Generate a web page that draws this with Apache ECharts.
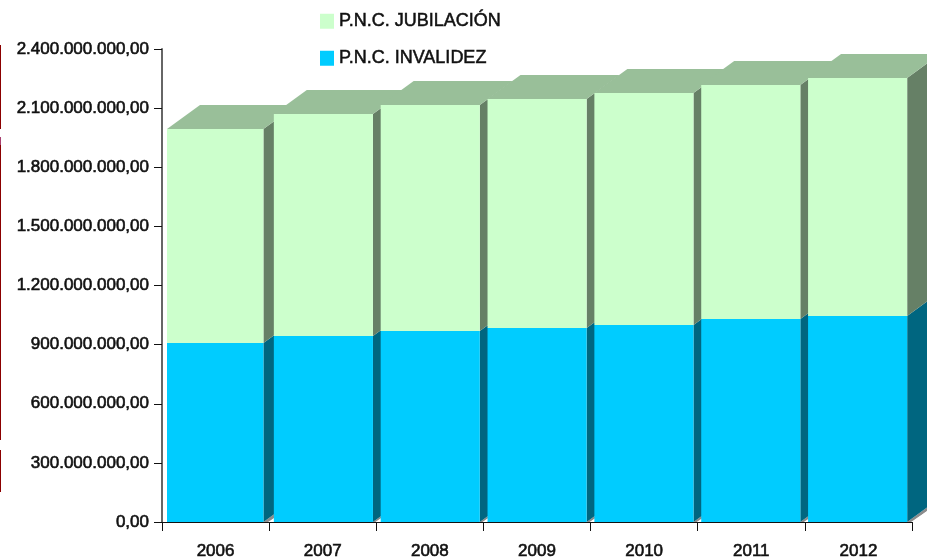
<!DOCTYPE html>
<html><head><meta charset="utf-8">
<style>html,body{margin:0;padding:0;background:#fff}#c{width:927px;height:559px}</style>
<script src="https://cdn.jsdelivr.net/npm/echarts@6/dist/echarts.min.js"></script></head>
<body><div id="c"></div>
<script>
const categories = ['2006','2007','2008','2009','2010','2011','2012'];
const invalidez = [908000000,944000000,969000000,984000000,1000000000,1030000000,1045000000];
const jubilacion = [1086000000,1126000000,1147000000,1162000000,1177000000,1187000000,1208000000];
const yTickLabels = ['0,00','300.000.000,00','600.000.000,00','900.000.000,00','1.200.000.000,00','1.500.000.000,00','1.800.000.000,00','2.100.000.000,00','2.400.000.000,00'];
const nameJub = 'P.N.C. JUBILACIÓN', nameInv = 'P.N.C. INVALIDEZ';
const FONT = '"Liberation Sans",Arial,sans-serif';
const DX = 33, DY = 24;
const INK = '#111';
const labelStyle = {fontFamily:FONT,fontSize:17,color:INK,textBorderColor:INK,textBorderWidth:0.6};

function makeRender(front, side, top, drawTop, drawFloor) {
  return function (params, api) {
    const i = api.value(0);
    const base = api.value(1), val = api.value(2);
    const band = api.size([1, 0])[0];
    const c0 = api.coord([i, base]), c1 = api.coord([i, base + val]);
    const bl = c0[0] - band / 2, br = c0[0] + band / 2;
    const w = i === 0 ? band * 0.9 : band * 0.925;
    const l = bl + 5 - 0.3 * i, r = l + w;
    const y0 = c0[1], y1 = c1[1];
    const kids = [];
    if (drawFloor) {
      kids.push({type:'polygon',shape:{points:[[r,y0],[br,y0],[br+DX,y0-DY],[r+DX,y0-DY]]},
        style:{fill:'#8c8c8c',stroke:'none'}});
      kids.push({type:'polygon',shape:{points:[[br-1,y0],[br+DX,y0],[br+DX,y0-DY+1]]},
        style:{fill:'#fff',stroke:'none'}});
    }
    kids.push({type:'polygon',shape:{points:[[r,y0],[r+DX,y0-DY],[r+DX,y1-DY],[r,y1]]},style:{fill:side}});
    if (drawTop) kids.push({type:'polygon',shape:{points:[[l,y1],[r,y1],[r+DX,y1-DY],[l+DX,y1-DY]]},style:{fill:top}});
    kids.push({type:'rect',shape:{x:l,y:y1,width:w,height:y0-y1},style:{fill:front}});
    return {type:'group',children:kids};
  };
}

const chart = echarts.init(document.getElementById('c'), null, {renderer:'canvas'});
chart.setOption({
  animation:false,
  backgroundColor:'#fff',
  grid:{left:162,right:15,top:49,bottom:37,outerBoundsMode:'none'},
  legend:[
    {left:320, top:12, padding:0, itemWidth:14, itemHeight:15, icon:'rect', data:[nameJub], selectedMode:false,
     textStyle:{fontFamily:FONT,fontSize:18,color:INK,textBorderColor:INK,textBorderWidth:0.5,padding:[0,0,8,0]}},
    {left:320, top:49, padding:0, itemWidth:14, itemHeight:15, icon:'rect', data:[nameInv], selectedMode:false,
     textStyle:{fontFamily:FONT,fontSize:18,color:INK,textBorderColor:INK,textBorderWidth:0.5}}
  ],
  xAxis:{type:'category',data:categories,
    axisLine:{lineStyle:{color:'#111',width:1}},
    axisTick:{show:true,alignWithLabel:false,length:9,lineStyle:{color:'#111'}},
    axisLabel:Object.assign({margin:21,hideOverlap:false},labelStyle)},
  yAxis:{type:'value',min:0,max:2400000000,interval:300000000,
    axisLine:{show:true,lineStyle:{color:'#666',width:2}},
    axisTick:{show:true,length:8,lineStyle:{color:'#111'}},
    splitLine:{show:false},
    axisLabel:Object.assign({margin:13,hideOverlap:false,padding:[2,0,0,0],
      formatter:(v)=>yTickLabels[Math.round(v/300000000)]},labelStyle)},
  series:[
    {name:nameInv,type:'custom',itemStyle:{color:'#00CCFF'},
      data:categories.map((c,i)=>[i,0,invalidez[i]]),
      encode:{x:0,y:[1,2]},
      renderItem:makeRender('#00CCFF','#006680','#0099BF',false,true)},
    {name:nameJub,type:'custom',itemStyle:{color:'#CCFFCC'},
      data:categories.map((c,i)=>[i,invalidez[i],jubilacion[i]]),
      encode:{x:0,y:[1,2]},
      renderItem:makeRender('#CCFFCC','#668066','#99BF99',true,false)}
  ],
  graphic:[
    {type:'rect',shape:{x:0,y:45,width:1,height:84},style:{fill:'#8B0000'}},
    {type:'rect',shape:{x:0,y:137,width:1,height:8},style:{fill:'#A84070'}},
    {type:'rect',shape:{x:0,y:145,width:1,height:295},style:{fill:'#8B0000'}},
    {type:'rect',shape:{x:0,y:450,width:1,height:42},style:{fill:'#8B0000'}}
  ]
});
</script></body></html>
